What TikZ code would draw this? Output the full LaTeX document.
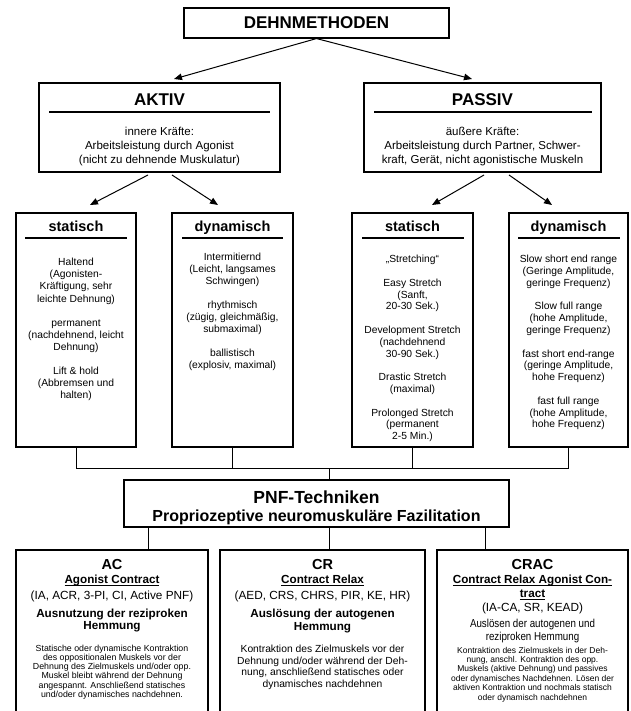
\documentclass[tikz,border=0pt]{standalone}
\usepackage{fontspec}
\setmainfont{Liberation Sans}
\newfontfamily\narrowfont[FakeStretch=0.85]{Liberation Sans}
\usetikzlibrary{arrows.meta}

\newcommand\myul[1]{\setbox0\hbox{#1}\rlap{\rule[-1.8pt]{\wd0}{0.8pt}}\box0}

\tikzset{
  box/.style={draw, line width=1.1pt, inner sep=0pt},
  conn/.style={line width=1pt},
  arr/.style={line width=1pt, -{Triangle[length=8pt,width=6.5pt]}},
  ul/.style={line width=1.7pt},
  txt/.style={inner sep=0pt, anchor=base, align=center},
  hA/.style={font=\bfseries\fontsize{17}{20}\selectfont},
  bA/.style={font=\fontsize{11.5}{13.7}\selectfont},
  hB/.style={font=\bfseries\fontsize{14.5}{17}\selectfont},
  bB/.style={font=\fontsize{10.3}{12}\selectfont},
  sC/.style={font=\bfseries\fontsize{11.7}{13}\selectfont},
  rC/.style={font=\fontsize{11.8}{13}\selectfont},
  mC/.style={font=\fontsize{10.3}{11.5}\selectfont},
  smC/.style={font=\fontsize{8.8}{9.3}\selectfont},
  smD/.style={font=\fontsize{8.5}{9.4}\selectfont},
  nC/.style={font=\narrowfont\fontsize{11.5}{13}\selectfont},
  pA/.style={font=\bfseries\fontsize{17.5}{20}\selectfont},
  pB/.style={font=\bfseries\fontsize{16}{19}\selectfont},
}

\newcommand\mylines[6]{%
  \foreach \lineTxt [count=\lineNo] in {#6}{%
    \node[txt, #4] (#5-\lineNo) at (#1,{#2+(\lineNo-1)*#3}) {\lineTxt};
  }%
}

\begin{document}
\begin{tikzpicture}[x=1pt,y=-1pt]
\useasboundingbox (0,0) rectangle (630,711);
\fill[white] (0,0) rectangle (630,711);
\clip (0,0) rectangle (630,711);

% ---------- level 0 ----------
\node[box, minimum width=265pt, minimum height=30pt] (dehn) at (316.5,23) {};
\node[txt, hA] (dehnT) at (316.5,29) {DEHNMETHODEN};

% ---------- level 1 ----------
\node[box, minimum width=241pt, minimum height=89pt] (aktiv) at (159.5,127.5) {};
\node[box, minimum width=237pt, minimum height=89pt] (passiv) at (482.5,127.5) {};
\node[txt, hA] (aktivT) at (159.5,106) {AKTIV};
\node[txt, hA] (passivT) at (482.5,106) {PASSIV};
\draw[ul] (49,112) -- (270,112);
\draw[ul] (374,112) -- (592,112);
\mylines{159.5}{135.7}{13.7}{bA}{ab}{{innere Kräfte:},{Arbeitsleistung durch Agonist},{(nicht zu dehnende Muskulatur)}}
\mylines{482.5}{135.7}{13.7}{bA}{pb}{{äußere Kräfte:},{Arbeitsleistung durch Partner, Schwer-},{kraft, Gerät, nicht agonistische Muskeln}}

\coordinate (tA) at (174,79);
\coordinate (tP) at (472,79);
\draw[arr] (dehn.south) -- (tA);
\draw[arr] (dehn.south) -- (tP);

% ---------- level 2 ----------
\node[box, minimum width=120pt, minimum height=234pt] (sa) at (76,330) {};
\node[box, minimum width=121pt, minimum height=234pt] (da) at (232.5,330) {};
\node[box, minimum width=121pt, minimum height=234pt] (sp) at (412.5,330) {};
\node[box, minimum width=119pt, minimum height=234pt] (dp) at (568.5,330) {};

\coordinate (a1s) at (148,175); \coordinate (a1e) at (90,205);
\coordinate (a2s) at (172,175); \coordinate (a2e) at (218,205);
\coordinate (p1s) at (484,175); \coordinate (p1e) at (432,205);
\coordinate (p2s) at (509,175); \coordinate (p2e) at (552,205);
\draw[arr] (a1s) -- (a1e);
\draw[arr] (a2s) -- (a2e);
\draw[arr] (p1s) -- (p1e);
\draw[arr] (p2s) -- (p2e);

\node[txt, hB] (saT) at (76,232) {statisch};
\node[txt, hB] (daT) at (232.5,232) {dynamisch};
\node[txt, hB] (spT) at (412.5,232) {statisch};
\node[txt, hB] (dpT) at (568.5,232) {dynamisch};
\draw[ul] (25,238) -- (127,238);
\draw[ul] (182,238) -- (283,238);
\draw[ul] (362,238) -- (464,238);
\draw[ul] (518,238) -- (620,238);

% statisch (aktiv)
\mylines{76}{265.7}{12.1}{bB}{sa1}{{Haltend},{(Agonisten-},{Kräftigung, sehr},{leichte Dehnung)}}
\mylines{76}{326.2}{12.1}{bB}{sa2}{{permanent},{(nachdehnend, leicht},{Dehnung)}}
\mylines{76}{374.6}{12.1}{bB}{sa3}{{Lift \& hold},{(Abbremsen und},{halten)}}
% dynamisch (aktiv)
\mylines{232.5}{260.7}{12}{bB}{da1}{{Intermitiernd},{(Leicht, langsames},{Schwingen)}}
\mylines{232.5}{308.7}{12}{bB}{da2}{{rhythmisch},{(zügig, gleichmäßig,},{submaximal)}}
\mylines{232.5}{356.7}{12}{bB}{da3}{{ballistisch},{(explosiv, maximal)}}
% statisch (passiv)
\mylines{412.5}{262.7}{11.8}{bB}{sp1}{{„Stretching“}}
\mylines{412.5}{286.3}{11.8}{bB}{sp2}{{Easy Stretch},{(Sanft,},{20-30 Sek.)}}
\mylines{412.5}{333.5}{11.8}{bB}{sp3}{{Development Stretch},{(nachdehnend},{30-90 Sek.)}}
\mylines{412.5}{380.7}{11.8}{bB}{sp4}{{Drastic Stretch},{(maximal)}}
\mylines{412.5}{416.1}{11.8}{bB}{sp5}{{Prolonged Stretch},{(permanent},{2-5 Min.)}}
% dynamisch (passiv)
\mylines{568.5}{262.7}{11.8}{bB}{dp1}{{Slow short end range},{(Geringe Amplitude,},{geringe Frequenz)}}
\mylines{568.5}{309.9}{11.8}{bB}{dp2}{{Slow full range},{(hohe Amplitude,},{geringe Frequenz)}}
\mylines{568.5}{357.1}{11.8}{bB}{dp3}{{fast short end-range},{(geringe Amplitude,},{hohe Frequenz)}}
\mylines{568.5}{404.3}{11.8}{bB}{dp4}{{fast full range},{(hohe Amplitude,},{hohe Frequenz)}}

% ---------- PNF ----------
\node[box, minimum width=385pt, minimum height=47pt] (pnf) at (316.5,503.5) {};
\node[txt, pA] (pnfT) at (316.5,503) {PNF-Techniken};
\node[txt, pB] (pnfS) at (316.5,521.5) {Propriozeptive neuromuskuläre Fazilitation};

\coordinate (hub) at (329,468);
\draw[conn] (sa.south) -- ++(0,21) -| (dp.south);
\draw[conn] (da.south) -- (da.south |- hub);
\draw[conn] (sp.south) -- (sp.south |- hub);
\draw[conn] (hub) -- (hub |- pnf.north);

% ---------- bottom boxes ----------
\node[box, minimum width=192pt, minimum height=190pt] (b1) at (112,645) {};
\node[box, minimum width=205pt, minimum height=190pt] (b2) at (322.5,645) {};
\node[box, minimum width=191pt, minimum height=190pt] (b3) at (532.5,645) {};
\coordinate (c1) at (148,0); \coordinate (c2) at (329,0); \coordinate (c3) at (485,0);
\draw[conn] (pnf.south -| c1) -- (b1.north -| c1);
\draw[conn] (pnf.south -| c2) -- (b2.north -| c2);
\draw[conn] (pnf.south -| c3) -- (b3.north -| c3);

% AC
\node[txt, hB] (b1T) at (112,569) {AC};
\node[txt, sC] (b1S) at (112,583.5) {\myul{Agonist Contract}};
\node[txt, rC] (b1R) at (112,599) {(IA, ACR, 3-PI, CI, Active PNF)};
\mylines{112}{617}{12.5}{sC}{b1h}{{Ausnutzung der reziproken},{Hemmung}}
\mylines{112}{651}{9.3}{smC}{b1t}{{Statische oder dynamische Kontraktion},{des oppositionalen Muskels vor der},{Dehnung des Zielmuskels und/oder opp.},{Muskel bleibt während der Dehnung},{angespannt. Anschließend statisches},{und/oder dynamisches nachdehnen.}}

% CR
\node[txt, hB] (b2T) at (322.5,569) {CR};
\node[txt, sC] (b2S) at (322.5,583.5) {\myul{Contract Relax}};
\node[txt, rC] (b2R) at (322.5,599.5) {(AED, CRS, CHRS, PIR, KE, HR)};
\mylines{322.5}{617}{13}{sC}{b2h}{{Auslösung der autogenen},{Hemmung}}
\mylines{322.5}{652.7}{11.5}{mC}{b2t}{{Kontraktion des Zielmuskels vor der},{Dehnung und/oder während der Deh-},{nung, anschließend statisches oder},{dynamisches nachdehnen}}

% CRAC
\node[txt, hB] (b3T) at (532.5,569) {CRAC};
\mylines{532.5}{583.5}{14}{sC}{b3s}{{\myul{Contract Relax Agonist Con-}},{\myul{tract}}}
\node[txt, rC] (b3R) at (532.5,611) {(IA-CA, SR, KEAD)};
\mylines{532.5}{627}{13}{nC}{b3h}{{Auslösen der autogenen und},{reziproken Hemmung}}
\mylines{532.5}{653}{9.4}{smD}{b3t}{{Kontraktion des Zielmuskels in der Deh-},{nung, anschl. Kontraktion des opp.},{Muskels (aktive Dehnung) und passives},{oder dynamisches Nachdehnen. Lösen der},{aktiven Kontraktion und nochmals statisch},{oder dynamisch nachdehnen}}
\end{tikzpicture}
\end{document}
